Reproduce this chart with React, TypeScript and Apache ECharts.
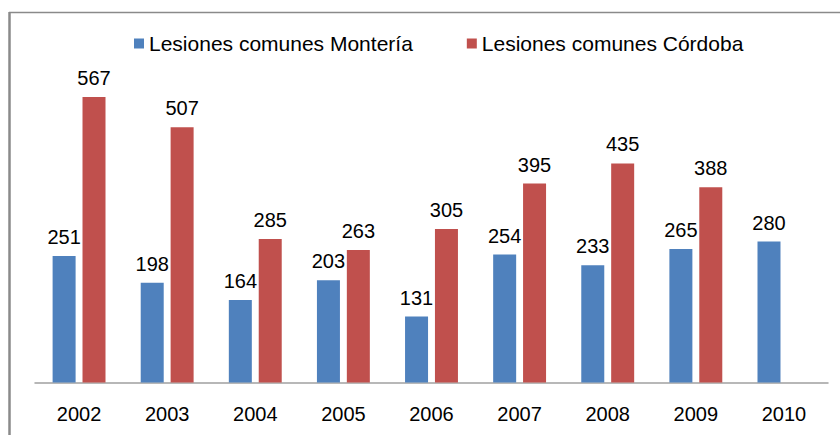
import React, { useEffect, useRef } from "react";
import * as echarts from "echarts";

const years = ["2002", "2003", "2004", "2005", "2006", "2007", "2008", "2009", "2010"];
const monteria = [251, 198, 164, 203, 131, 254, 233, 265, 280];
const cordoba: (number | null)[] = [567, 507, 285, 263, 305, 395, 435, 388, null];
const seriesNames = ["Lesiones comunes Montería", "Lesiones comunes Córdoba"];

const FONT = "'Liberation Sans', Arial, sans-serif";

export default function App() {
  const ref = useRef<HTMLDivElement>(null);
  useEffect(() => {
    if (!ref.current) return;
    const chart = echarts.init(ref.current, undefined, { renderer: "svg" });
    const label = {
      show: true,
      position: "top" as const,
      distance: 9,
      color: "#000",
      fontSize: 20,
      fontFamily: FONT,
    };
    chart.setOption({
      animation: false,
      backgroundColor: "#fff",
      graphic: [
        {
          type: "line",
          shape: { x1: 9, y1: 12.5, x2: 840, y2: 12.5 },
          style: { stroke: "#8a8a8a", lineWidth: 1.5 },
        },
        {
          type: "line",
          shape: { x1: 9.5, y1: 12, x2: 9.5, y2: 435 },
          style: { stroke: "#8a8a8a", lineWidth: 2.5 },
        },
      ],
      legend: {
        left: 129,
        top: 28,
        icon: "rect",
        itemWidth: 10,
        itemHeight: 10,
        itemGap: 54,
        textStyle: { fontSize: 21, fontFamily: FONT, color: "#000" },
        data: seriesNames,
      },
      grid: { left: 35, right: 12, top: 80.4, bottom: 52.5, containLabel: false },
      xAxis: {
        type: "category",
        data: years,
        axisLine: { show: true, lineStyle: { color: "#a0a0a0", width: 1.5 } },
        axisTick: { show: false },
        axisLabel: { color: "#000", fontSize: 20, fontFamily: FONT, margin: 21 },
      },
      yAxis: {
        type: "value",
        min: 0,
        max: 600,
        show: false,
        splitLine: { show: false },
      },
      series: [
        {
          name: seriesNames[0],
          type: "bar",
          data: monteria,
          barWidth: 23,
          barGap: "30%",
          itemStyle: { color: "#4F81BD" },
          label,
        },
        {
          name: seriesNames[1],
          type: "bar",
          data: cordoba,
          barWidth: 23,
          barGap: "30%",
          itemStyle: { color: "#C0504D" },
          label,
        },
      ],
    });
    return () => chart.dispose();
  }, []);
  return (
    <div
      ref={ref}
      style={{ position: "fixed", left: 0, top: 0, width: 840, height: 435 }}
    />
  );
}
